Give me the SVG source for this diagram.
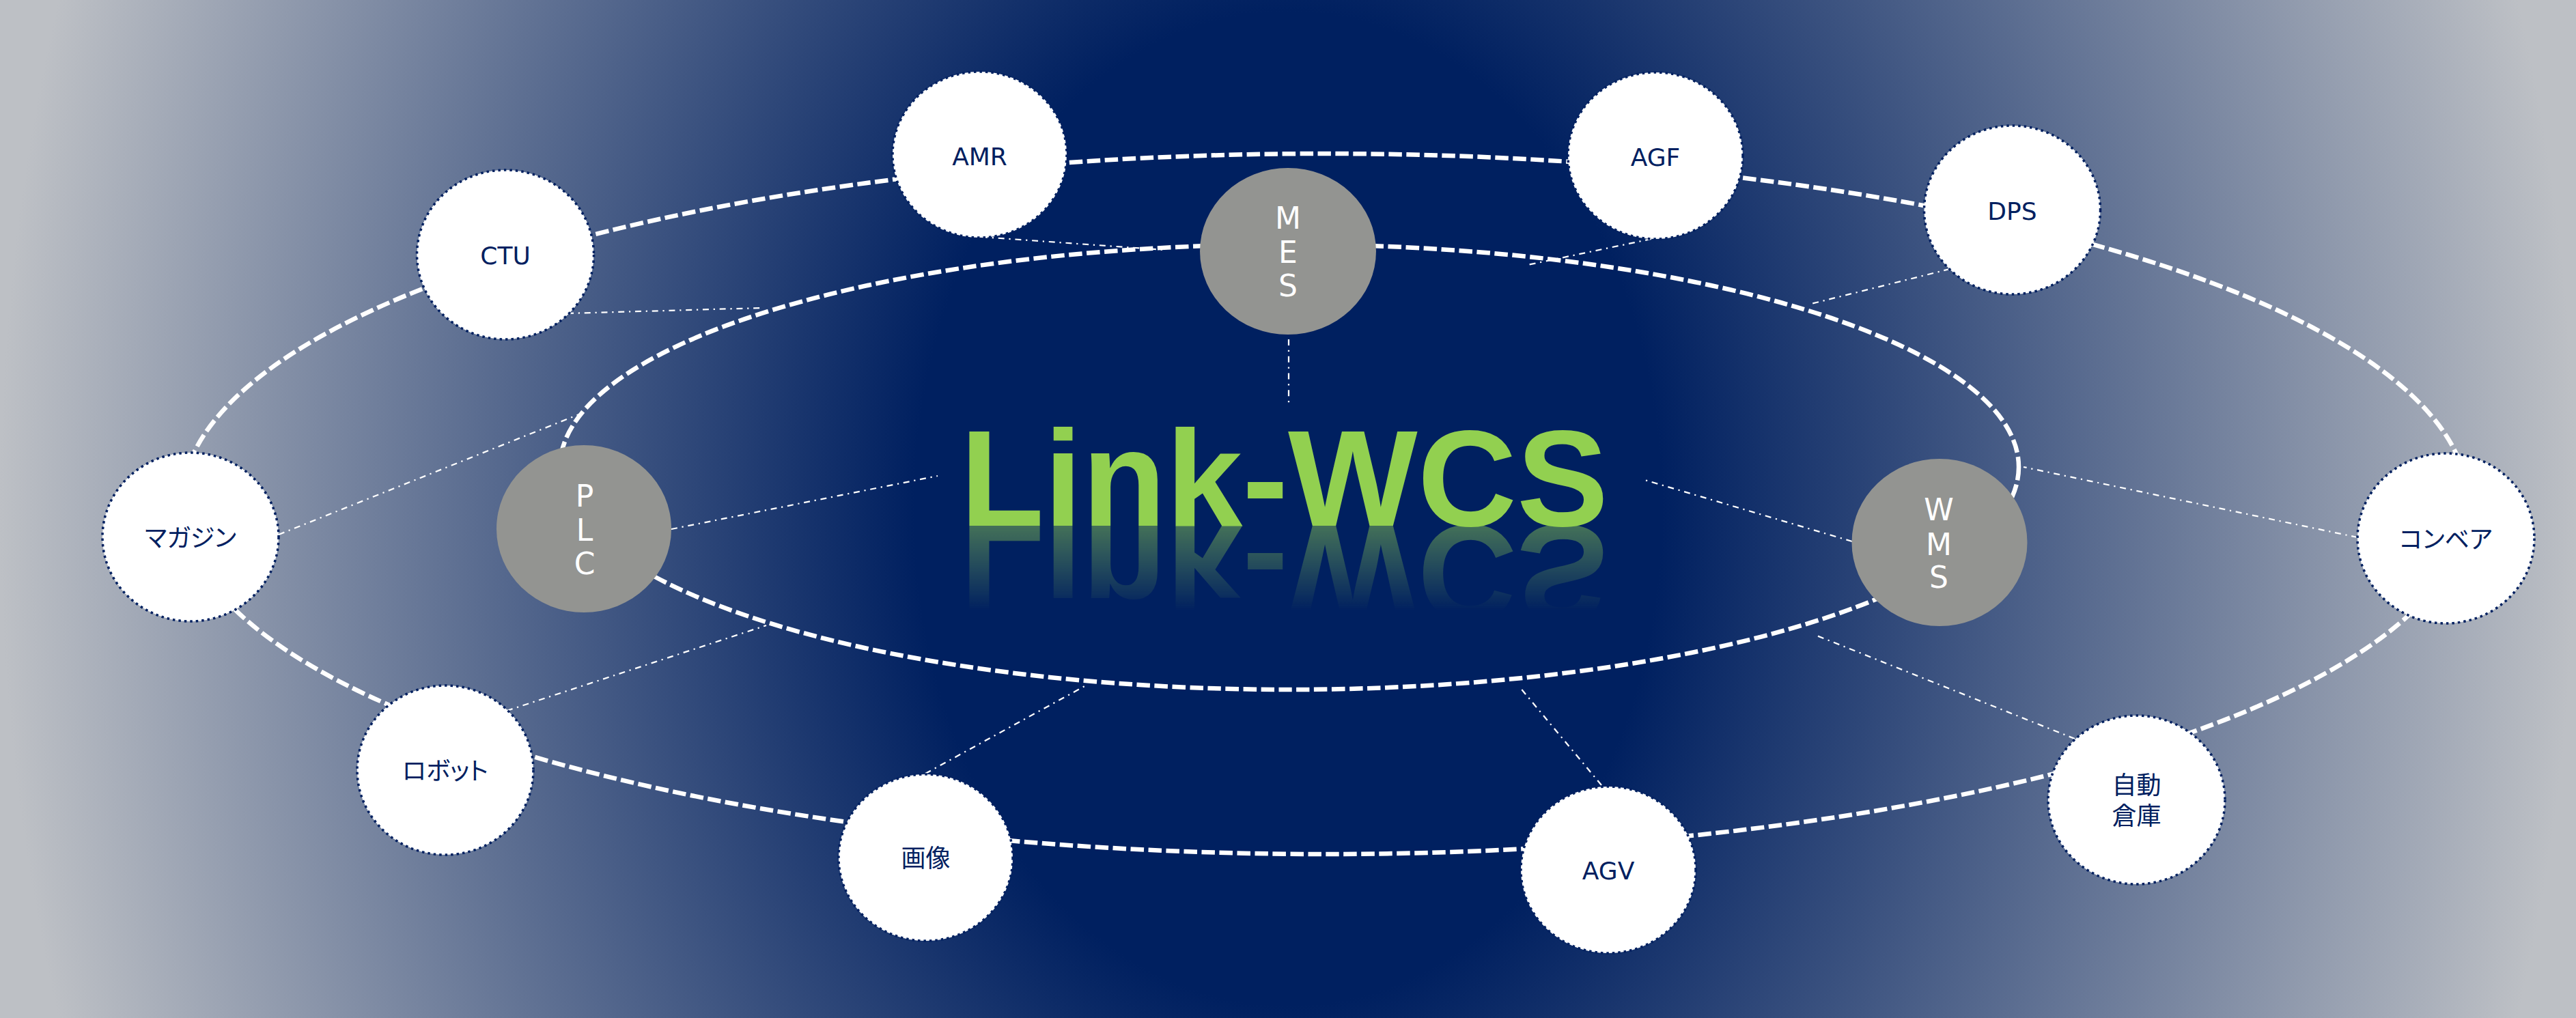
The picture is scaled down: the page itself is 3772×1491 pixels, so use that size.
<svg xmlns="http://www.w3.org/2000/svg" xmlns:xlink="http://www.w3.org/1999/xlink" width="3772" height="1491" viewBox="0 0 3772 1491">
  <defs>
    <radialGradient id="bg" gradientUnits="userSpaceOnUse" cx="1886" cy="745" r="1886" gradientTransform="translate(1886 745) scale(1 1.33) translate(-1886 -745)">
      <stop offset="0" stop-color="#002060"/>
      <stop offset="0.29" stop-color="#002060"/>
      <stop offset="1" stop-color="#bdc0c5"/>
    </radialGradient>
    <linearGradient id="fade" gradientUnits="userSpaceOnUse" x1="0" y1="770" x2="0" y2="895">
      <stop offset="0" stop-color="#fff" stop-opacity="0.46"/>
      <stop offset="1" stop-color="#fff" stop-opacity="0"/>
    </linearGradient>
    <mask id="reflMask" maskUnits="userSpaceOnUse" x="0" y="770" width="3772" height="200">
      <rect x="0" y="770" width="3772" height="200" fill="url(#fade)"/>
    </mask>
    <style>
      .ring { fill: none; stroke: #ffffff; stroke-width: 6.5; stroke-dasharray: 19.5 6.5; }
      .conn { fill: none; stroke: #ffffff; stroke-width: 2.25; stroke-dasharray: 9 6.75 2.25 6.75; }
      .outer { fill: #ffffff; stroke: #002060; stroke-width: 3.5; stroke-dasharray: 3.5 5; }
      .core { fill: #939491; }
      .lbl { font-family: "DejaVu Sans", "Noto Sans CJK JP", sans-serif; font-size: 36px; fill: #002060; text-anchor: middle; }
      .jp { font-family: "Noto Sans CJK JP", sans-serif; font-size: 36px; fill: #002060; text-anchor: middle; font-feature-settings: "palt" 1; }
      .core-lbl { font-family: "DejaVu Sans", sans-serif; font-size: 44px; fill: #ffffff; text-anchor: middle; }
      .title { font-family: "Liberation Sans", Arial, sans-serif; font-weight: bold; font-size: 201px; fill: #92d050; }
    </style>
  </defs>

  <rect x="0" y="0" width="3772" height="1491" fill="url(#bg)"/>

  <g id="rings">
    <ellipse class="ring" cx="1940" cy="738" rx="1674" ry="513"/>
    <ellipse class="ring" cx="1888" cy="684" rx="1068" ry="326"/>
  </g>

  <g id="connectors">
    <line class="conn" x1="1437" y1="347" x2="1705" y2="366"/>
    <line class="conn" x1="2418" y1="350" x2="2237" y2="388"/>
    <line class="conn" x1="2855" y1="394" x2="2648" y2="446"/>
    <line class="conn" x1="831" y1="459" x2="1115" y2="451"/>
    <line class="conn" x1="408" y1="783" x2="850" y2="606"/>
    <line class="conn" x1="3452" y1="787" x2="2963" y2="684"/>
    <line class="conn" x1="742" y1="1041" x2="1122" y2="916"/>
    <line class="conn" x1="1355" y1="1133" x2="1590" y2="1004"/>
    <line class="conn" x1="2345" y1="1150" x2="2225" y2="1006"/>
    <line class="conn" x1="3038" y1="1082" x2="2658" y2="930"/>
    <line class="conn" x1="1887" y1="497" x2="1887" y2="591"/>
    <line class="conn" x1="983" y1="775" x2="1373" y2="697"/>
    <line class="conn" x1="2712" y1="793" x2="2405" y2="702"/>
  </g>

  <g id="title">
    <text id="titleText" class="title" x="1406" y="770">Link-WCS</text>
    <g mask="url(#reflMask)">
      <use href="#titleText" xlink:href="#titleText" transform="translate(0 1540) scale(1 -1)"/>
    </g>
  </g>

  <g id="node-mes">
    <ellipse class="core" cx="1886" cy="368" rx="129" ry="122"/>
    <text class="core-lbl" x="1886" y="335">M</text>
    <text class="core-lbl" x="1886" y="385">E</text>
    <text class="core-lbl" x="1886" y="434">S</text>
  </g>
  <g id="node-plc">
    <ellipse class="core" cx="855" cy="774.5" rx="128" ry="122.5"/>
    <text class="core-lbl" x="856" y="742">P</text>
    <text class="core-lbl" x="856" y="792">L</text>
    <text class="core-lbl" x="856" y="841">C</text>
  </g>
  <g id="node-wms">
    <ellipse class="core" cx="2840" cy="794.5" rx="128.5" ry="122.5"/>
    <text class="core-lbl" x="2839" y="762">W</text>
    <text class="core-lbl" x="2839" y="813">M</text>
    <text class="core-lbl" x="2839" y="861">S</text>
  </g>

  <g id="node-amr">
    <ellipse class="outer" cx="1434.5" cy="226.5" rx="127.5" ry="121.5"/>
    <text class="lbl" x="1434.5" y="241.5">AMR</text>
  </g>
  <g id="node-agf">
    <ellipse class="outer" cx="2424" cy="228" rx="128" ry="122"/>
    <text class="lbl" x="2424" y="243">AGF</text>
  </g>
  <g id="node-dps">
    <ellipse class="outer" cx="2946.5" cy="307.5" rx="129" ry="123.5"/>
    <text class="lbl" x="2946.5" y="322">DPS</text>
  </g>
  <g id="node-ctu">
    <ellipse class="outer" cx="740" cy="373" rx="129.5" ry="124"/>
    <text class="lbl" x="740" y="387">CTU</text>
  </g>
  <g id="node-magazine">
    <ellipse class="outer" cx="279" cy="786.5" rx="129" ry="123.5"/>
    <text class="jp" x="279" y="801">マガジン</text>
  </g>
  <g id="node-conveyor">
    <ellipse class="outer" cx="3581.5" cy="788.5" rx="129.5" ry="124.5"/>
    <text class="jp" x="3581.5" y="803">コンベア</text>
  </g>
  <g id="node-robot">
    <ellipse class="outer" cx="652" cy="1128" rx="129" ry="124"/>
    <text class="jp" x="652" y="1142">ロボット</text>
  </g>
  <g id="node-image">
    <ellipse class="outer" cx="1355.5" cy="1256" rx="127.5" ry="122"/>
    <text class="jp" x="1355.5" y="1270">画像</text>
  </g>
  <g id="node-agv">
    <ellipse class="outer" cx="2355" cy="1274" rx="128" ry="122"/>
    <text class="lbl" x="2355" y="1288">AGV</text>
  </g>
  <g id="node-asrs">
    <ellipse class="outer" cx="3128.5" cy="1171.5" rx="129.5" ry="123.5"/>
    <text class="jp" x="3128.5" y="1163">自動</text>
    <text class="jp" x="3128.5" y="1208">倉庫</text>
  </g>
</svg>
